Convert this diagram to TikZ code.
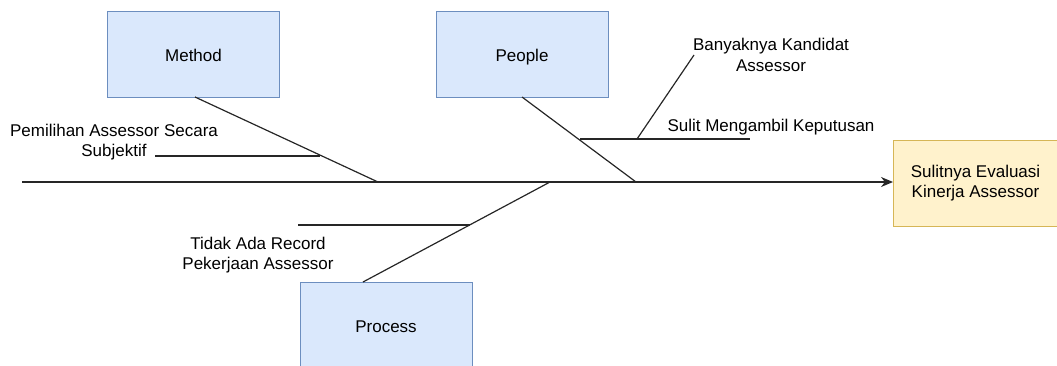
\documentclass[tikz,border=0pt]{standalone}
\usepackage{fontspec}
\setmainfont{Liberation Sans}
\usetikzlibrary{arrows.meta}
\definecolor{catfill}{HTML}{DAE8FC}
\definecolor{catline}{HTML}{6C8EBF}
\definecolor{resfill}{HTML}{FFF2CC}
\definecolor{resline}{HTML}{D6B656}
\tikzset{
  catbox/.style={draw=catline, fill=catfill, line width=1pt, minimum width=172pt, minimum height=86pt, inner sep=0pt, text height=15pt, text depth=0pt, font=\fontsize{17}{20.4}\selectfont},
  resbox/.style={draw=resline, fill=resfill, line width=1pt, minimum width=164pt, minimum height=86pt, inner sep=0pt, align=center, font=\fontsize{17}{20.4}\selectfont},
  lbl/.style={align=center, inner sep=0pt, font=\fontsize{17}{20.4}\selectfont},
  bone/.style={line width=1.2pt, draw=black!85},
}
\begin{document}
\begin{tikzpicture}[x=1pt,y=-1pt]
\useasboundingbox (0,0) rectangle (1057,365);
\clip (0,0) rectangle (1057,365);
% category boxes
\node[catbox] (method) at (193.5,54) {Method};
\node[catbox] (people) at (522,54) {People};
\node[catbox] (process) at (386,325) {Process};
\node[resbox, anchor=west] (result) at (893,183) {Sulitnya Evaluasi\\Kinerja Assessor};
% spine
\coordinate (tail) at (22,182);
\draw[bone, -{Stealth[length=12pt,width=10pt]}] (tail) -- (tail -| result.west);
% junctions on the spine
\coordinate (jm) at (378,182);
\coordinate (jp) at (636,182);
\coordinate (jr) at (550,182);
\coordinate (mtop) at (195,97);
\coordinate (ptop) at (522,97);
\coordinate (rbot) at (363,282);
\draw[bone] (mtop) -- (jm);
\draw[bone] (ptop) -- (jp);
\draw[bone] (rbot) -- (jr);
% sub-causes
\coordinate (m1a) at (155,156);
\coordinate (m1b) at (320,156);
\draw[bone] (m1a) -- (m1b);
\coordinate (p1a) at (580,139);
\coordinate (p1b) at (750,139);
\draw[bone] (p1a) -- (p1b);
\coordinate (p2a) at (637,139);
\coordinate (p2b) at (694,55);
\draw[bone] (p2a) -- (p2b);
\coordinate (r1a) at (298,225);
\coordinate (r1b) at (470,225);
\draw[bone] (r1a) -- (r1b);
% labels
\node[lbl] (t1) at (114,142) {Pemilihan Assessor Secara\\Subjektif};
\node[lbl] (t2) at (771,55) {Banyaknya Kandidat\\Assessor};
\node[lbl] (t3) at (771,127) {Sulit Mengambil Keputusan};
\node[lbl] (t4) at (258,255) {Tidak Ada Record\\Pekerjaan Assessor};
\end{tikzpicture}
\end{document}
